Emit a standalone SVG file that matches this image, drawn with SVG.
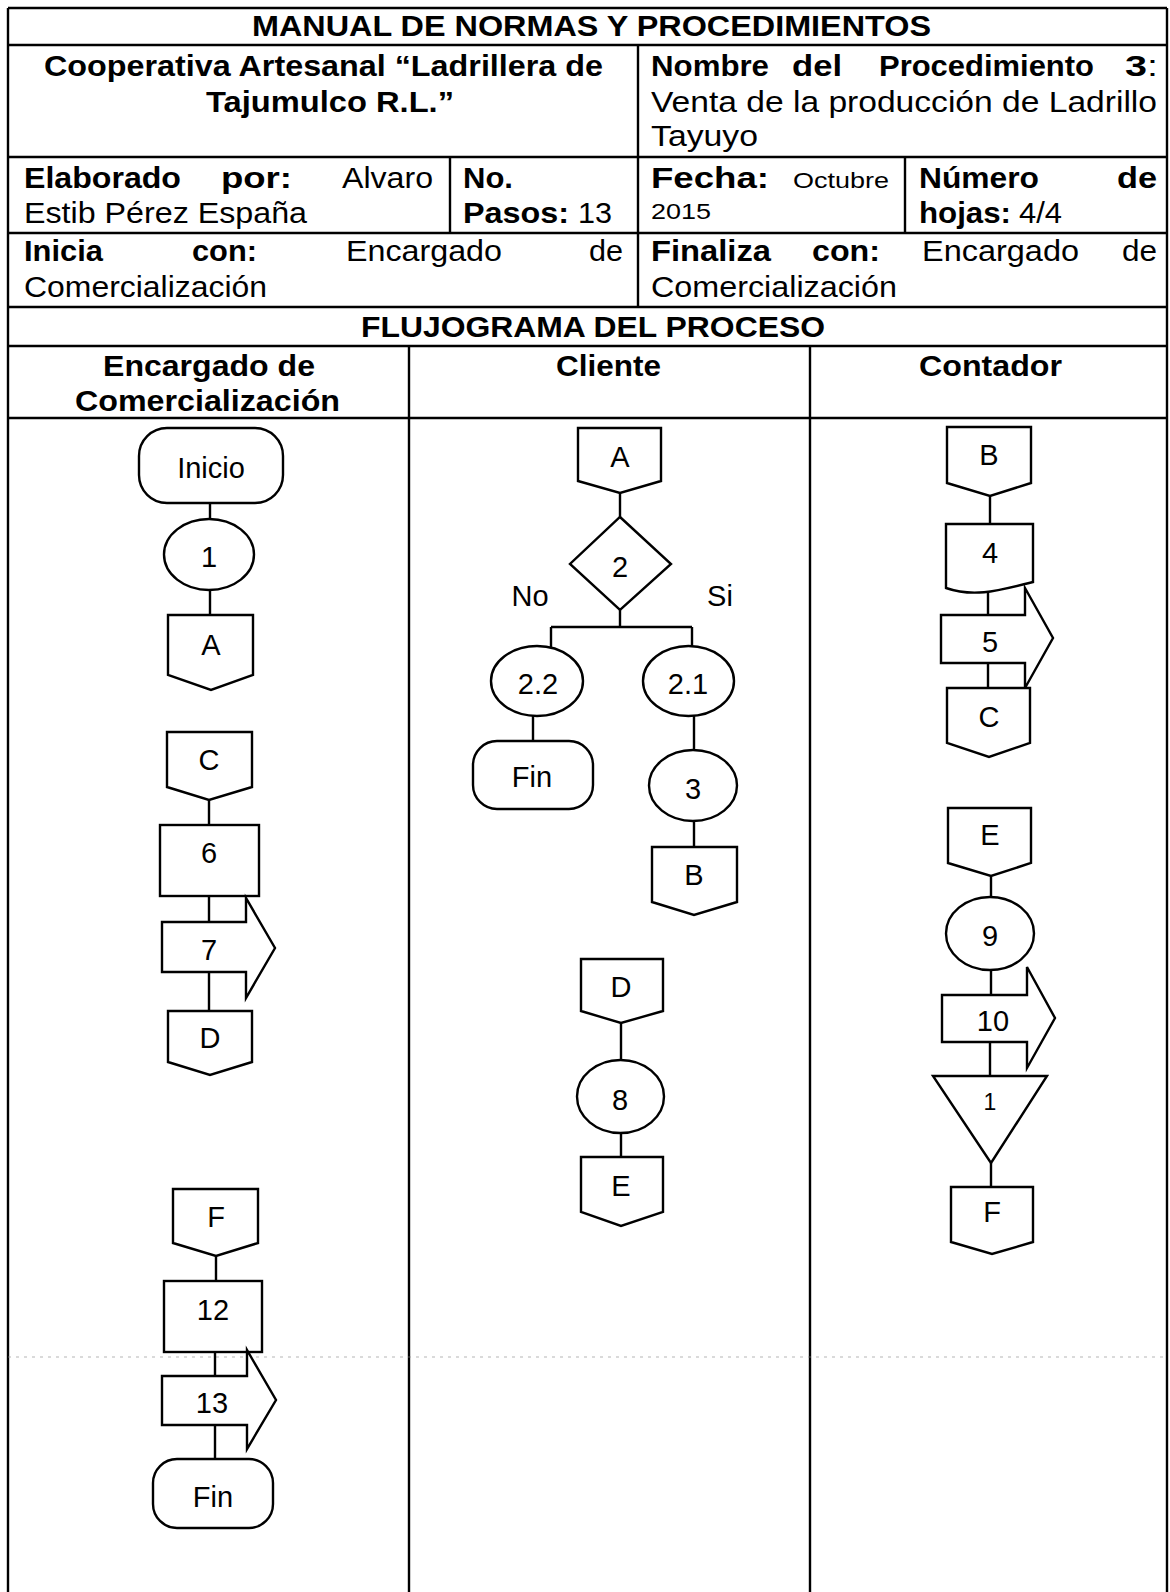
<svg xmlns="http://www.w3.org/2000/svg" width="1170" height="1592" viewBox="0 0 1170 1592">
<style>
.ln{stroke:#000;stroke-width:2.4;fill:none}
.tb{stroke:#000;stroke-width:2.4;fill:none}
.sh{fill:#fff;stroke:#000;stroke-width:2.4}
.b{font-family:"Liberation Sans",Arial,sans-serif;font-weight:bold;font-size:29px;fill:#000}
.r{font-family:"Liberation Sans",Arial,sans-serif;font-weight:normal;font-size:29px;fill:#000}
.s{font-family:"Liberation Sans",Arial,sans-serif;font-weight:normal;font-size:22px;fill:#000}
.f{font-family:"Liberation Sans",Arial,sans-serif;font-size:29px;fill:#000;text-anchor:middle}
.f1{font-family:"Liberation Sans",Arial,sans-serif;font-size:23px;fill:#000;text-anchor:middle}
</style>
<rect width="1170" height="1592" fill="#fff"/>

<g id="table">
<path class="tb" d="M8,8 H1167 M8,45 H1167 M8,157 H1167 M8,233 H1167 M8,307 H1167 M8,346 H1167 M8,418 H1167"/>
<path class="tb" d="M8,8 V1592 M1167,8 V1592 M638,45 V307 M450,157 V233 M905,157 V233 M409,346 V1592 M810,346 V1592"/>
<line x1="8" y1="1357" x2="1167" y2="1357" stroke="#888" stroke-width="1.2" stroke-dasharray="3 5" opacity="0.6"/>
</g>

<g id="header-text">
<text class="b" x="252" y="36" textLength="679" lengthAdjust="spacingAndGlyphs">MANUAL DE NORMAS Y PROCEDIMIENTOS</text>
<text class="b" x="44" y="76" textLength="559" lengthAdjust="spacingAndGlyphs">Cooperativa Artesanal “Ladrillera de</text>
<text class="b" x="206" y="112" textLength="248" lengthAdjust="spacingAndGlyphs">Tajumulco R.L.”</text>
<text class="b" x="651" y="76" textLength="118" lengthAdjust="spacingAndGlyphs">Nombre</text>
<text class="b" x="792" y="76" textLength="50" lengthAdjust="spacingAndGlyphs">del</text>
<text class="b" x="879" y="76" textLength="215" lengthAdjust="spacingAndGlyphs">Procedimiento</text>
<text class="b" x="1125" y="76" textLength="33" lengthAdjust="spacingAndGlyphs">3<tspan font-weight="normal">:</tspan></text>
<text class="r" x="651" y="112" textLength="506" lengthAdjust="spacingAndGlyphs">Venta de la producción de Ladrillo</text>
<text class="r" x="651" y="146" textLength="107" lengthAdjust="spacingAndGlyphs">Tayuyo</text>

<text class="b" x="24" y="188" textLength="157" lengthAdjust="spacingAndGlyphs">Elaborado</text>
<text class="b" x="221" y="188" textLength="71" lengthAdjust="spacingAndGlyphs">por:</text>
<text class="r" x="342" y="188" textLength="91" lengthAdjust="spacingAndGlyphs">Alvaro</text>
<text class="r" x="24" y="223" textLength="283" lengthAdjust="spacingAndGlyphs">Estib Pérez España</text>
<text class="b" x="463" y="188" textLength="50" lengthAdjust="spacingAndGlyphs">No.</text>
<text class="b" x="463" y="223" textLength="106" lengthAdjust="spacingAndGlyphs">Pasos:</text>
<text class="r" x="578" y="223" textLength="34" lengthAdjust="spacingAndGlyphs">13</text>
<text class="b" x="651" y="188" textLength="118" lengthAdjust="spacingAndGlyphs">Fecha:</text>
<text class="s" x="793" y="188" textLength="96" lengthAdjust="spacingAndGlyphs">Octubre</text>
<text class="s" x="651" y="219" textLength="60" lengthAdjust="spacingAndGlyphs">2015</text>
<text class="b" x="919" y="188" textLength="120" lengthAdjust="spacingAndGlyphs">Número</text>
<text class="b" x="1117" y="188" textLength="40" lengthAdjust="spacingAndGlyphs">de</text>
<text class="b" x="919" y="223" textLength="92" lengthAdjust="spacingAndGlyphs">hojas:</text>
<text class="r" x="1019" y="223" textLength="43" lengthAdjust="spacingAndGlyphs">4/4</text>

<text class="b" x="24" y="261" textLength="79" lengthAdjust="spacingAndGlyphs">Inicia</text>
<text class="b" x="192" y="261" textLength="65" lengthAdjust="spacingAndGlyphs">con:</text>
<text class="r" x="346" y="261" textLength="156" lengthAdjust="spacingAndGlyphs">Encargado</text>
<text class="r" x="589" y="261" textLength="34" lengthAdjust="spacingAndGlyphs">de</text>
<text class="r" x="24" y="297" textLength="243" lengthAdjust="spacingAndGlyphs">Comercialización</text>
<text class="b" x="651" y="261" textLength="120" lengthAdjust="spacingAndGlyphs">Finaliza</text>
<text class="b" x="812" y="261" textLength="68" lengthAdjust="spacingAndGlyphs">con:</text>
<text class="r" x="922" y="261" textLength="157" lengthAdjust="spacingAndGlyphs">Encargado</text>
<text class="r" x="1122" y="261" textLength="35" lengthAdjust="spacingAndGlyphs">de</text>
<text class="r" x="651" y="297" textLength="246" lengthAdjust="spacingAndGlyphs">Comercialización</text>

<text class="b" x="361" y="337" textLength="464" lengthAdjust="spacingAndGlyphs">FLUJOGRAMA DEL PROCESO</text>
<text class="b" x="103" y="376" textLength="212" lengthAdjust="spacingAndGlyphs">Encargado de</text>
<text class="b" x="75" y="411" textLength="265" lengthAdjust="spacingAndGlyphs">Comercialización</text>
<text class="b" x="556" y="376" textLength="105" lengthAdjust="spacingAndGlyphs">Cliente</text>
<text class="b" x="919" y="376" textLength="143" lengthAdjust="spacingAndGlyphs">Contador</text>
</g>

<g id="connectors">
<path class="ln" d="M210,503 V519 M210,590 V615"/>
<path class="ln" d="M209,800 V825 M209,896 V922 M209,972 V1011"/>
<path class="ln" d="M216,1256 V1281 M215,1352 V1376 M215,1425 V1459"/>
<path class="ln" d="M620,493 V517 M620,610 V627 M551,627 H692 M551,627 V647 M692,627 V647"/>
<path class="ln" d="M533,716 V741 M694,716 V750 M694,821 V847"/>
<path class="ln" d="M621,1023 V1060 M621,1133 V1157"/>
<path class="ln" d="M990,496 V524 M988,590 V615 M988,663 V688"/>
<path class="ln" d="M991,876 V897 M991,970 V995 M990,1042 V1076 M991,1163 V1187"/>
</g>

<g id="n-inicio"><rect class="sh" x="139" y="428" width="144" height="75" rx="28" ry="28"/><text class="f" x="211" y="478">Inicio</text></g>
<g id="n-1"><ellipse class="sh" cx="209" cy="554.5" rx="45" ry="35.5"/><text class="f" x="209" y="567">1</text></g>
<g id="n-A1"><polygon class="sh" points="168,615 253,615 253,675 211,690 168,675"/><text class="f" x="211" y="655">A</text></g>
<g id="n-C1"><polygon class="sh" points="167,732 252,732 252,787 209,800 167,787"/><text class="f" x="209" y="770">C</text></g>
<g id="n-6"><rect class="sh" x="160" y="825" width="99" height="71"/><text class="f" x="209" y="863">6</text></g>
<g id="n-7"><polygon class="sh" points="162,922 246,922 246,898 275,948 246,998 246,972 162,972"/><text class="f" x="209" y="960">7</text></g>
<g id="n-D1"><polygon class="sh" points="168,1011 252,1011 252,1062 210,1075 168,1062"/><text class="f" x="210" y="1048">D</text></g>
<g id="n-F1"><polygon class="sh" points="173,1189 258,1189 258,1243 216,1256 173,1243"/><text class="f" x="216" y="1227">F</text></g>
<g id="n-12"><rect class="sh" x="164" y="1281" width="98" height="71"/><text class="f" x="213" y="1320">12</text></g>
<g id="n-13"><polygon class="sh" points="162,1376 247,1376 247,1350 276,1400 247,1449 247,1425 162,1425"/><text class="f" x="212" y="1413">13</text></g>
<g id="n-fin1"><rect class="sh" x="153" y="1459" width="120" height="69" rx="24" ry="24"/><text class="f" x="213" y="1507">Fin</text></g>

<g id="n-A2"><polygon class="sh" points="578,428 661,428 661,481 620,493 578,481"/><text class="f" x="620" y="467">A</text></g>
<g id="n-2"><polygon class="sh" points="620,517 671,564 620,610 570,564"/><text class="f" x="620" y="577">2</text></g>
<g id="lbl-no"><text class="f" x="530" y="606">No</text></g>
<g id="lbl-si"><text class="f" x="720" y="606">Si</text></g>
<g id="n-2-2"><ellipse class="sh" cx="537" cy="681" rx="46" ry="35"/><text class="f" x="538" y="694">2.2</text></g>
<g id="n-2-1"><ellipse class="sh" cx="688.5" cy="681" rx="45.5" ry="35"/><text class="f" x="688" y="694">2.1</text></g>
<g id="n-fin2"><rect class="sh" x="473" y="741" width="120" height="68" rx="24" ry="24"/><text class="f" x="532" y="787">Fin</text></g>
<g id="n-3"><ellipse class="sh" cx="693" cy="785.5" rx="44" ry="35.5"/><text class="f" x="693" y="799">3</text></g>
<g id="n-B2"><polygon class="sh" points="652,847 737,847 737,902 694,915 652,902"/><text class="f" x="694" y="885">B</text></g>
<g id="n-D2"><polygon class="sh" points="581,959 663,959 663,1011 621,1023 581,1011"/><text class="f" x="621" y="997">D</text></g>
<g id="n-8"><ellipse class="sh" cx="620.5" cy="1096.5" rx="43.5" ry="36.5"/><text class="f" x="620" y="1110">8</text></g>
<g id="n-E2"><polygon class="sh" points="581,1157 663,1157 663,1212 621,1226 581,1212"/><text class="f" x="621" y="1196">E</text></g>

<g id="n-B3"><polygon class="sh" points="947,427 1031,427 1031,483 990,496 947,483"/><text class="f" x="989" y="465">B</text></g>
<g id="n-4"><path class="sh" d="M946,524 H1033 V582 C1000,590 975,598 946,588 Z"/><text class="f" x="990" y="563">4</text></g>
<g id="n-5"><polygon class="sh" points="941,615 1025,615 1025,588 1053,638 1025,688 1025,663 941,663"/><text class="f" x="990" y="652">5</text></g>
<g id="n-C3"><polygon class="sh" points="947,688 1030,688 1030,743 989,757 947,743"/><text class="f" x="989" y="727">C</text></g>
<g id="n-E3"><polygon class="sh" points="948,808 1031,808 1031,863 991,876 948,863"/><text class="f" x="990" y="845">E</text></g>
<g id="n-9"><ellipse class="sh" cx="990" cy="933.5" rx="44" ry="36.5"/><text class="f" x="990" y="946">9</text></g>
<g id="n-10"><polygon class="sh" points="942,995 1027,995 1027,967 1055,1018 1027,1068 1027,1042 942,1042"/><text class="f" x="993" y="1031">10</text></g>
<g id="n-arch1"><polygon class="sh" points="933,1076 1047,1076 991,1163"/><text class="f1" x="990" y="1110">1</text></g>
<g id="n-F3"><polygon class="sh" points="951,1187 1033,1187 1033,1242 992,1254 951,1242"/><text class="f" x="992" y="1222">F</text></g>
</svg>
